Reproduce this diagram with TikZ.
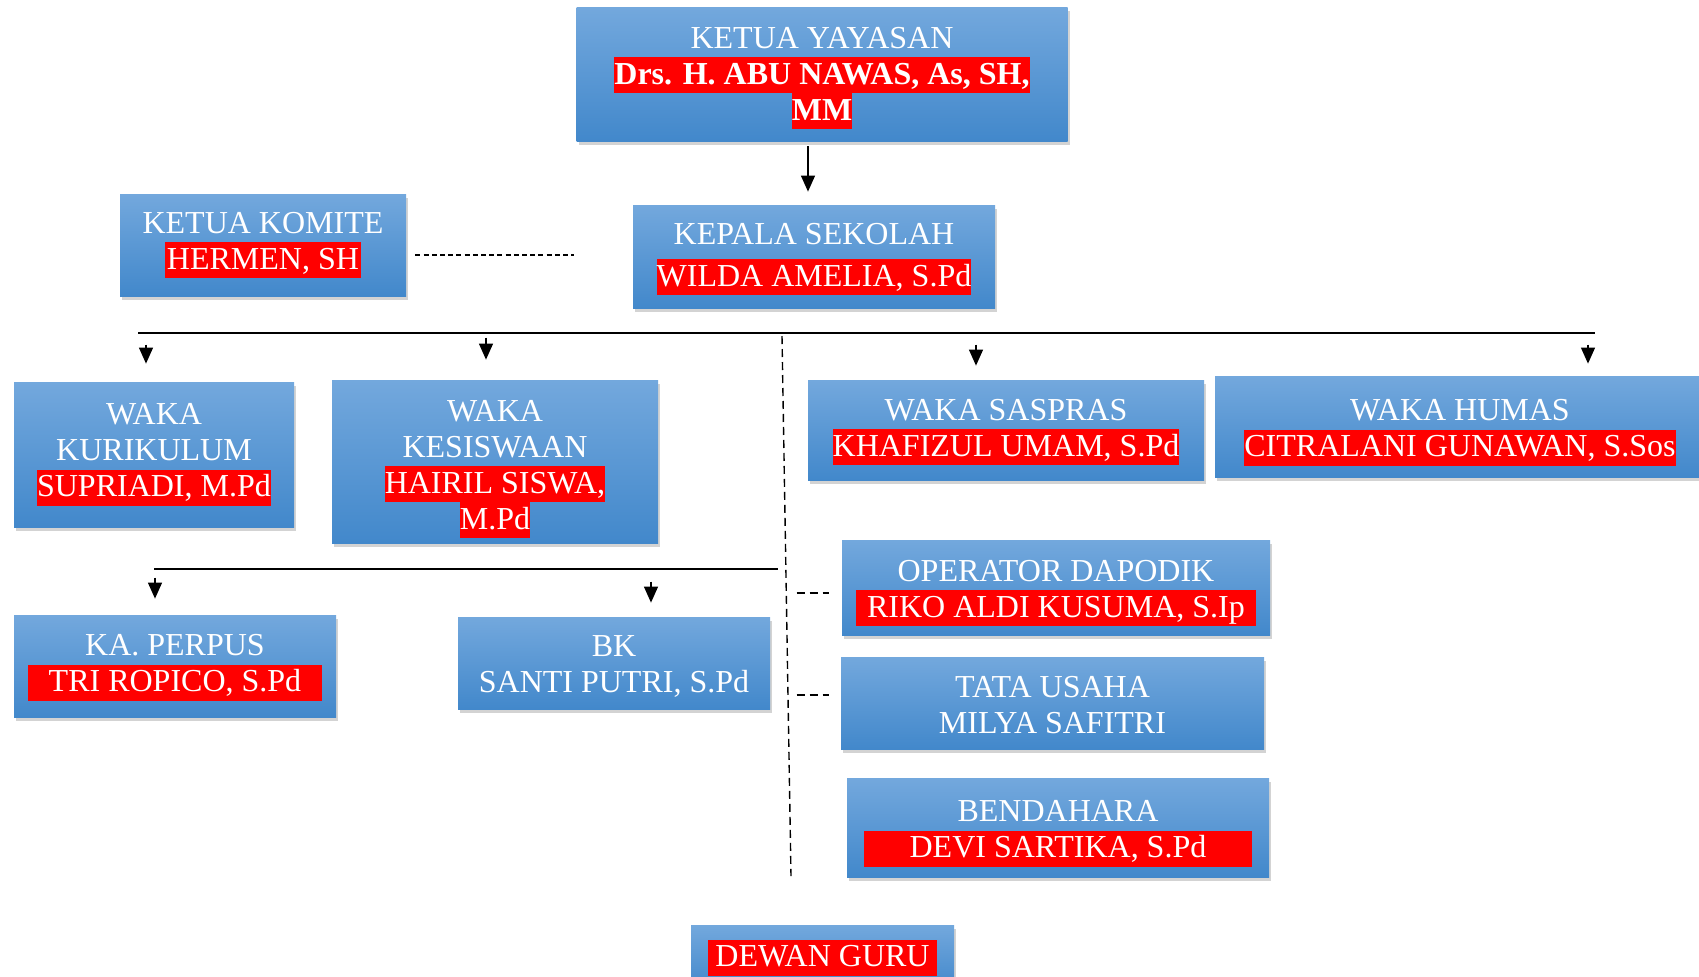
\documentclass[tikz,border=0pt]{standalone}
\usepackage{fontspec}
\setmainfont{Liberation Serif}
\usetikzlibrary{shadows,arrows.meta}
\definecolor{boxtop}{RGB}{115,168,221}
\definecolor{boxbot}{RGB}{66,136,203}
\newcommand{\hl}[2][0pt]{{\setlength{\fboxsep}{0pt}\colorbox{red}{\hspace{#1}\rule[-4.5pt]{0pt}{18pt}#2\hspace{#1}}}}
% pushes the text of a box down by #1
\newcommand{\geser}[1]{\rule{0pt}{\dimexpr 10.6pt+#1*2\relax}}
\tikzset{
  jabatan/.style={top color=boxtop, bottom color=boxbot, text=white, align=center, inner sep=0pt,
    font=\fontsize{16}{18}\selectfont,
    drop shadow={shadow xshift=1.2pt, shadow yshift=-2pt, opacity=0.35}},
  panah/.style={line width=0.6pt, -{Triangle[length=8pt,width=7pt]}},
  garis/.style={line width=0.9pt},
  putus/.style={line width=0.7pt, dash pattern=on 4pt off 2.5pt},
  putustipis/.style={line width=0.8pt, dash pattern=on 2.5pt off 1.6pt},
}

\begin{document}
\begin{tikzpicture}[x=0.5pt,y=-0.5pt] % Struktur Organisasi
  \useasboundingbox (0,0) rectangle (1699,976);

  \node[jabatan, minimum width=245.5pt, minimum height=67pt] (yayasan) at (822,74)
    {\geser{2pt}KETUA YAYASAN\\ \hl{\bfseries Drs. H. ABU NAWAS, As, SH,}\\ \hl{\bfseries MM}};
  \node[jabatan, minimum width=143pt, minimum height=51pt] (komite) at (263,245)
    {KETUA KOMITE\\ \hl[1pt]{HERMEN, SH}};
  \node[jabatan, minimum width=181pt, minimum height=51.5pt] (kepsek) at (814,256.5)
    {\geser{1.3pt}KEPALA SEKOLAH\\[3pt] \hl{WILDA AMELIA, S.Pd}};

  \node[jabatan, minimum width=140pt, minimum height=72.5pt] (kurikulum) at (154,454.5)
    {WAKA\\ KURIKULUM\\ \hl{SUPRIADI, M.Pd}};
  \node[jabatan, minimum width=163pt, minimum height=81.5pt] (kesiswaan) at (495,461.5)
    {\geser{3.8pt}WAKA\\ KESISWAAN\\ \hl{HAIRIL SISWA,}\\ \hl{M.Pd}};
  \node[jabatan, minimum width=198pt, minimum height=50pt] (saspras) at (1006,430)
    {\geser{1pt}WAKA SASPRAS\\ \hl{KHAFIZUL UMAM, S.Pd}};
  \node[jabatan, minimum width=245pt, minimum height=50.5pt] (humas) at (1460,426.5)
    {\geser{3pt}WAKA HUMAS\\ \hl{CITRALANI GUNAWAN, S.Sos}};

  \node[jabatan, minimum width=161pt, minimum height=51pt] (perpus) at (175,666)
    {\geser{0.8pt}KA. PERPUS\\ \hl[10.5pt]{TRI ROPICO, S.Pd}};
  \node[jabatan, minimum width=156pt, minimum height=46pt] (bk) at (614,663)
    {\geser{1.8pt}BK\\ SANTI PUTRI, S.Pd};

  \node[jabatan, minimum width=214pt, minimum height=47.5pt] (operator) at (1056,587.5)
    {\geser{2.7pt}OPERATOR DAPODIK\\ \hl[5.5pt]{RIKO ALDI KUSUMA, S.Ip}};
  \node[jabatan, minimum width=211.5pt, minimum height=46pt] (tatausaha) at (1052.5,703)
    {\geser{0.8pt}TATA USAHA\\ MILYA SAFITRI};
  \node[jabatan, minimum width=211pt, minimum height=49.5pt] (bendahara) at (1058,827.5)
    {\geser{3pt}BENDAHARA\\ \hl[23pt]{DEVI SARTIKA, S.Pd}};
  \node[jabatan, minimum width=131.5pt, minimum height=32.5pt] (dewan) at (822.5,957.5)
    {\hl[3.5pt]{DEWAN GURU}};

  \coordinate (bus1) at (138,333);
  \coordinate (bus1e) at (1595,333);
  \coordinate (bus2) at (154,569);
  \coordinate (bus2e) at (778,569);
  \coordinate (trunk) at (782,336);
  \coordinate (trunke) at (791,876);

  \draw[panah] ([xshift=-7pt,yshift=-2.5pt]yayasan.south) -- ([xshift=-3pt,yshift=6.5pt]kepsek.north);
  \draw[putustipis] ([shift={(9,10)}]komite.east) -- ++(159,0);

  \draw[garis] (bus1) -- (bus1e);
  \draw[panah] ([xshift=-4pt,yshift=18.5pt]kurikulum.north) -- ([xshift=-4pt,yshift=9pt]kurikulum.north);
  \draw[panah] ([xshift=-4.5pt,yshift=21pt]kesiswaan.north) -- ([xshift=-4.5pt,yshift=10pt]kesiswaan.north);
  \draw[panah] ([xshift=-15pt,yshift=17.5pt]saspras.north) -- ([xshift=-15pt,yshift=7pt]saspras.north);
  \draw[panah] ([xshift=64pt,yshift=15.5pt]humas.north) -- ([xshift=64pt,yshift=6pt]humas.north);

  \draw[putus] (trunk) -- (trunke);

  \draw[garis] (bus2) -- (bus2e);
  \draw[panah] ([xshift=-10pt,yshift=18.5pt]perpus.north) -- ([xshift=-10pt,yshift=8pt]perpus.north);
  \draw[panah] ([xshift=18.5pt,yshift=17.5pt]bk.north) -- ([xshift=18.5pt,yshift=7pt]bk.north);

  \draw[putus] ([shift={(-45,5.5)}]operator.west) -- ([shift={(-13,5.5)}]operator.west);
  \draw[putus] ([shift={(-44,-8)}]tatausaha.west) -- ([shift={(-12,-8)}]tatausaha.west);
\end{tikzpicture}
\end{document}
